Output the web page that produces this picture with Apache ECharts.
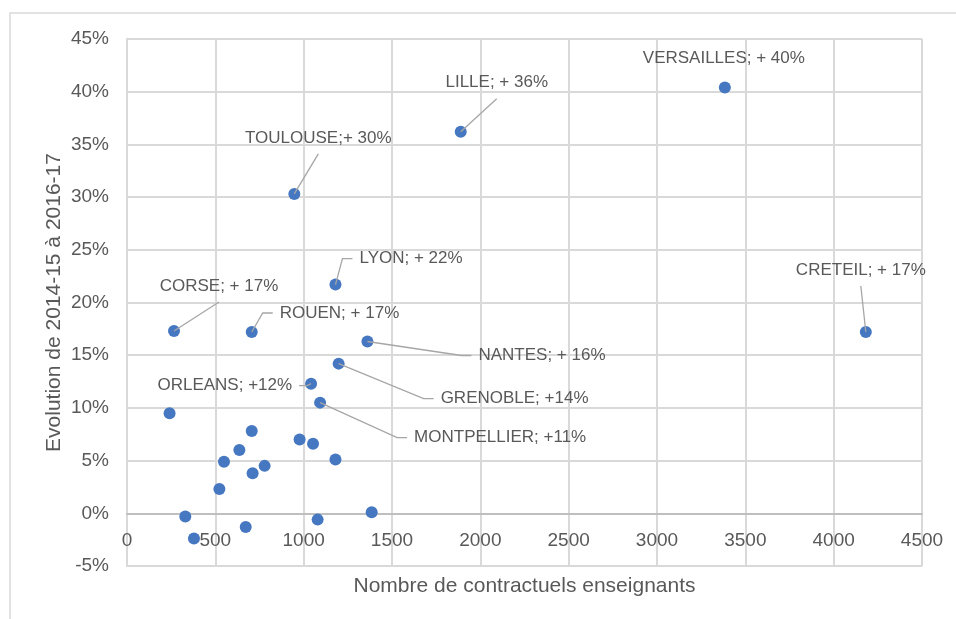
<!DOCTYPE html>
<html>
<head>
<meta charset="utf-8">
<script src="https://cdn.jsdelivr.net/npm/echarts@6/dist/echarts.min.js"></script>
<style>
  html, body { margin: 0; padding: 0; background: #fff; }
  #chart { width: 956px; height: 619px; }
</style>
</head>
<body>
<div id="chart"></div>
<script>
// Académies étiquetées
const academies = ['VERSAILLES', 'LILLE', 'TOULOUSE', 'LYON', 'CORSE', 'ROUEN', 'CRETEIL', 'NANTES', 'GRENOBLE', 'ORLEANS', 'MONTPELLIER']
const academyLabels = ['VERSAILLES; + 40%', 'LILLE; + 36%', 'TOULOUSE;+ 30%', 'LYON; + 22%', 'CORSE; + 17%', 'ROUEN; + 17%', 'CRETEIL; + 17%', 'NANTES; + 16%', 'GRENOBLE; +14%', 'ORLEANS; +12%', 'MONTPELLIER; +11%']
const academyContractuels = [3384, 1889, 947, 1180, 266, 706, 4182, 1361, 1198, 1042, 1093]
const academyEvolution = [40.4, 36.2, 30.3, 21.7, 17.3, 17.2, 17.2, 16.3, 14.2, 12.3, 10.5]

// Autres académies (sans étiquette)
const otherContractuels = [241, 706, 636, 549, 977, 1053, 1180, 779, 711, 523, 330, 1385, 1079, 672, 379]
const otherEvolution = [9.5, 7.8, 6.0, 4.9, 7.0, 6.6, 5.1, 4.5, 3.8, 2.3, -0.3, 0.1, -0.6, -1.3, -2.4]

// Axes
const xTicks = { min: 0, max: 4500, interval: 500 }
const yTicks = { min: -5, max: 45, interval: 5 }

// Placement des étiquettes (décalage en pixels par rapport au point)
const labelPlacement = [
  { dx: -1, dy: -29, align: 'center', line: 'none' },
  { dx: 36, dy: -49, align: 'center', line: 'bottom' },
  { dx: 24, dy: -56, align: 'center', line: 'bottom' },
  { dx: 24, dy: -26, align: 'left', line: 'left' },
  { dx: 45, dy: -45, align: 'center', line: 'bottom' },
  { dx: 28, dy: -19, align: 'left', line: 'left' },
  { dx: -5, dy: -62, align: 'center', line: 'bottom' },
  { dx: 111, dy: 14, align: 'left', line: 'left' },
  { dx: 102, dy: 35, align: 'left', line: 'left' },
  { dx: -19, dy: 2, align: 'right', line: 'right' },
  { dx: 94, dy: 35, align: 'left', line: 'left' },
]

const FONT = '"Liberation Sans", Arial, sans-serif'
const TEXT_COLOR = '#595959'
const DOT_COLOR = '#4677C1'

// l'axe des abscisses est posé sur la ligne 0 %
const GRID_TOP = 39
const GRID_BOTTOM = 53
const PLOT_H = 619 - GRID_TOP - GRID_BOTTOM
const zeroOffset = (PLOT_H * (0 - yTicks.min)) / (yTicks.max - yTicks.min)

const chart = echarts.init(document.getElementById('chart'))

const renderLabel = (params, api) => {
  const i = params.dataIndex
  const pt = api.coord([api.value(0), api.value(1)])
  const p = labelPlacement[i]
  const tx = pt[0] + p.dx
  const ty = pt[1] + p.dy
  const children = []
  let points = null
  if (p.line === 'bottom') {
    points = [[tx, ty + 16], pt]
  } else if (p.line === 'left') {
    points = [[tx - 7, ty], [tx - 17, ty], pt]
  } else if (p.line === 'right') {
    points = [[tx + 7, ty], [tx + 15, ty], pt]
  }
  if (points) {
    children.push({
      type: 'polyline',
      shape: { points },
      style: { stroke: '#a6a6a6', lineWidth: 1.3, fill: null },
    })
  }
  children.push({
    type: 'text',
    x: tx,
    y: ty,
    style: {
      text: academyLabels[i],
      align: p.align,
      verticalAlign: 'middle',
      fill: TEXT_COLOR,
      fontSize: 17,
      fontFamily: FONT,
    },
  })
  return { type: 'group', children }
}

const option = {
  animation: false,
  backgroundColor: '#fff',
  graphic: [
    {
      type: 'rect',
      z: -10,
      shape: { x: 10, y: 13, width: 1000, height: 700 },
      style: { fill: null, stroke: '#d9d9d9', lineWidth: 1.5 },
      silent: true,
    },
  ],
  grid: { left: 127, right: 34, top: GRID_TOP, bottom: GRID_BOTTOM, outerBoundsMode: 'none', containLabel: false },
  xAxis: {
    type: 'value',
    min: xTicks.min,
    max: xTicks.max,
    interval: xTicks.interval,
    offset: -zeroOffset,
    name: 'Nombre de contractuels enseignants',
    nameLocation: 'middle',
    nameGap: 62,
    nameMoveOverlap: false,
    nameTextStyle: { color: TEXT_COLOR, fontSize: 21, fontFamily: FONT },
    axisLine: { onZero: false, lineStyle: { color: '#bfbfbf', width: 2 } },
    axisTick: { show: false },
    axisLabel: {
      formatter: (v) => String(v),
      color: TEXT_COLOR,
      fontSize: 19,
      fontFamily: FONT,
      margin: 18,
    },
    splitLine: { lineStyle: { color: '#d9d9d9', width: 2 } },
  },
  yAxis: {
    type: 'value',
    min: yTicks.min,
    max: yTicks.max,
    interval: yTicks.interval,
    name: 'Evolution de 2014-15 à 2016-17',
    nameLocation: 'middle',
    nameGap: 62,
    nameMoveOverlap: false,
    nameTextStyle: { color: TEXT_COLOR, fontSize: 21, fontFamily: FONT },
    axisLine: { show: true, onZero: false, lineStyle: { color: '#d9d9d9', width: 2 } },
    axisTick: { show: false },
    axisLabel: {
      formatter: '{value}%',
      color: TEXT_COLOR,
      fontSize: 19,
      fontFamily: FONT,
      margin: 18,
    },
    splitLine: { lineStyle: { color: '#d9d9d9', width: 2 } },
  },
  series: [
    {
      name: 'autres',
      type: 'scatter',
      symbolSize: 12,
      itemStyle: { color: DOT_COLOR, opacity: 1 },
      data: otherContractuels.map((x, i) => [x, otherEvolution[i]]),
      z: 2,
    },
    {
      name: 'académies',
      type: 'scatter',
      symbolSize: 12,
      itemStyle: { color: DOT_COLOR, opacity: 1 },
      data: academyContractuels.map((x, i) => ({ name: academies[i], value: [x, academyEvolution[i]] })),
      z: 2,
    },
    {
      name: 'étiquettes',
      type: 'custom',
      silent: true,
      z: 3,
      renderItem: renderLabel,
      data: academyContractuels.map((x, i) => [x, academyEvolution[i]]),
    },
  ],
}

chart.setOption(option)
</script>
</body>
</html>
